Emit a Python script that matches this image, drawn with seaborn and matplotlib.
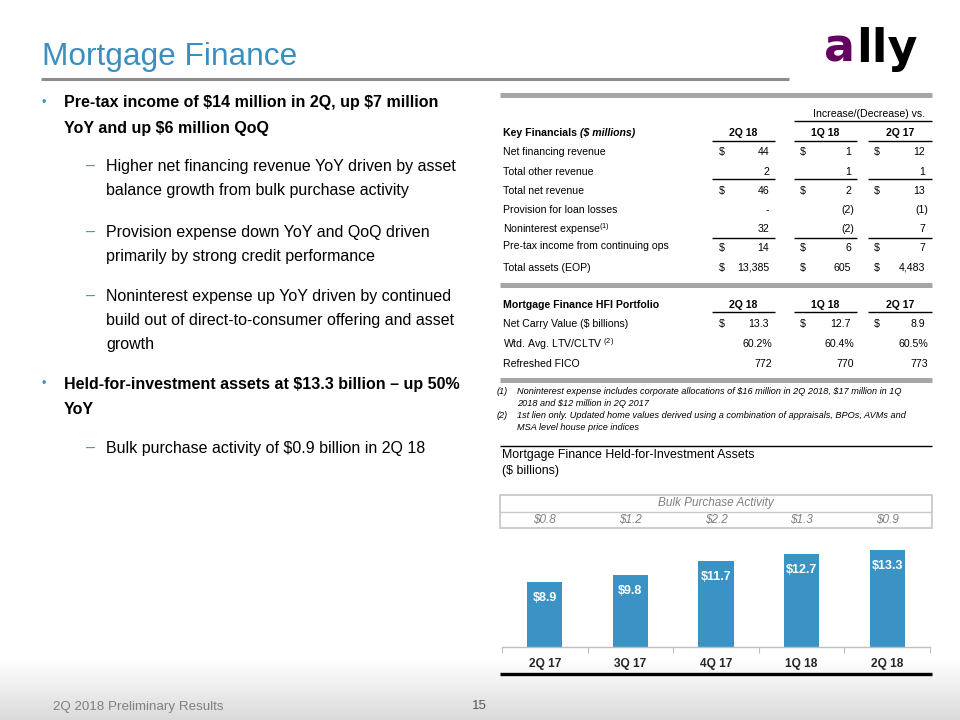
import numpy as np
import pandas as pd
import matplotlib
matplotlib.use("Agg")
import matplotlib.pyplot as plt
import seaborn as sns
from matplotlib.transforms import blended_transform_factory
from matplotlib.colors import LinearSegmentedColormap

# ---------------- data ----------------
quarters = ["2Q 17", "3Q 17", "4Q 17", "1Q 18", "2Q 18"]
hfi_assets = [8.9, 9.8, 11.7, 12.7, 13.3]
bulk_purchase = [0.8, 1.2, 2.2, 1.3, 0.9]

kf_columns = ["2Q 18", "1Q 18", "2Q 17"]
kf_rows = ["Net financing revenue", "Total other revenue", "Total net revenue",
           "Provision for loan losses", "Noninterest expense$^{(1)}$",
           "Pre-tax income from continuing ops", "Total assets (EOP)"]
kf_2q18 = ["44", "2", "46", "-", "32", "14", "13,385"]
kf_1q18 = ["1", "1", "2", "(2)", "(2)", "6", "605"]
kf_2q17 = ["12", "1", "13", "(1)", "7", "7", "4,483"]
kf_dollar = [True, False, True, False, False, True, True]

hfi_rows = ["Net Carry Value ($ billions)", "Wtd. Avg. LTV/CLTV $^{(2)}$", "Refreshed FICO"]
hfi_2q18 = ["13.3", "60.2%", "772"]
hfi_1q18 = ["12.7", "60.4%", "770"]
hfi_2q17 = ["8.9", "60.5%", "773"]
hfi_dollar = [True, False, False]

bullets = [
    ("b", ["Pre-tax income of $14 million in 2Q, up $7 million",
           "YoY and up $6 million QoQ"]),
    ("s", ["Higher net financing revenue YoY driven by asset",
           "balance growth from bulk purchase activity"]),
    ("s", ["Provision expense down YoY and QoQ driven",
           "primarily by strong credit performance"]),
    ("s", ["Noninterest expense up YoY driven by continued",
           "build out of direct-to-consumer offering and asset",
           "growth"]),
    ("b", ["Held-for-investment assets at $13.3 billion \u2013 up 50%",
           "YoY"]),
    ("s", ["Bulk purchase activity of $0.9 billion in 2Q 18"]),
]
footnotes = [
    ("(1)", ["Noninterest expense includes corporate allocations of $16 million in 2Q 2018, $17 million in 1Q",
             "2018 and $12 million in 2Q 2017"]),
    ("(2)", ["1st lien only. Updated home values derived using a combination of appraisals, BPOs, AVMs and",
             "MSA level house price indices"]),
]

# ---------------- style ----------------
sns.set_theme(style="white")
plt.rcParams['font.family'] = ['Liberation Sans', 'DejaVu Sans']
plt.rcParams['mathtext.default'] = 'regular'

BLUE = "#3A93C4"
TITLE_BLUE = "#3A8EC0"
GRAYBAR = "#A6A6A6"

fig = plt.figure(figsize=(9.6, 7.2), dpi=100)
bg = fig.add_axes([0, 0, 1, 1], zorder=0)
bg.axis('off')

# bottom gradient
grad = np.linspace(0, 1, 100).reshape(-1, 1)
cmap = LinearSegmentedColormap.from_list("g", ["#FFFFFF", "#DADADA"])
bg.imshow(grad, extent=[0, 960, 720, 660], aspect='auto', cmap=cmap, zorder=0)
bg.set_xlim(0, 960)
bg.set_ylim(720, 0)


def T(x, y, s, size=7.6, math=False, **kw):
    kw.setdefault('va', 'center')
    kw.setdefault('color', '#000000')
    return bg.text(x, y, s, fontsize=size, parse_math=math, **kw)


def H(x0, x1, y, lw=1.0, color='black'):
    bg.plot([x0, x1], [y, y], color=color, lw=lw, solid_capstyle='butt', zorder=2)


# ---------------- title + logo ----------------
T(42, 57, "Mortgage Finance", size=22.8, color=TITLE_BLUE)
H(41, 789, 79, lw=2.2, color="#8C8C8C")
T(824, 62, "a", size=33, color="#650360", fontweight='bold', va='baseline',
  family='DejaVu Sans')
T(856, 62, "lly", size=33, color="#000000", fontweight='bold', va='baseline',
  family='DejaVu Sans')

# ---------------- left bullets ----------------
line_ys = [103, 129, 166, 191, 232, 256, 296, 321, 345, 384, 409, 448]
k = 0
for kind, lines in bullets:
    for j, ln in enumerate(lines):
        y = line_ys[k]
        if kind == "b":
            if j == 0:
                T(42, y, "\u2022", size=9, color=BLUE)
            T(64, y, ln, size=11.5, fontweight='bold')
        else:
            if j == 0:
                T(86, y, "\u2013", size=11.5, color=BLUE)
            T(106, y, ln, size=11.5)
        k += 1

# ---------------- key financials table ----------------
X0, X1 = 500, 932
H(X0, X1, 95, lw=3.6, color=GRAYBAR)
T(925, 114, "Increase/(Decrease) vs.", ha='right')
H(794, 932, 121)
col_spans = [(712, 775), (794, 857), (868, 932)]
dollar_x = [719, 800, 874]
right_x = [769, 851, 925]

renderer = fig.canvas.get_renderer()
t = T(503, 133, "Key Financials ", fontweight='bold')
xe = t.get_window_extent(renderer).x1
T(xe, 133, "($ millions)", fontweight='bold', style='italic')
for c, (a, b) in zip(kf_columns, col_spans):
    T((a + b) / 2, 133, c, ha='center', fontweight='bold')
    H(a, b, 141)

row_ys = [152, 172, 191, 210, 229, 248, 268]
cols = [kf_2q18, kf_1q18, kf_2q17]
for i, lab in enumerate(kf_rows):
    y = row_ys[i]
    T(503, y - (2 if i == 5 else 0), lab, math=('$^' in lab))
    for ci in range(3):
        v = cols[ci][i]
        off = 3 if v.endswith(')') else 0
        T(right_x[ci] + off, y, v, ha='right')
        if kf_dollar[i]:
            T(dollar_x[ci], y, "$")
for ci, (a, b) in enumerate(col_spans):
    H(a, b, 179)
    H(a, b, 238)
H(X0, X1, 285, lw=3.6, color=GRAYBAR)

# ---------------- HFI portfolio table ----------------
T(503, 305, "Mortgage Finance HFI Portfolio", fontweight='bold')
for c, (a, b) in zip(kf_columns, col_spans):
    T((a + b) / 2, 305, c, ha='center', fontweight='bold')
    H(a, b, 312)
hrow_ys = [324, 344, 364]
hcols = [hfi_2q18, hfi_1q18, hfi_2q17]
for i, lab in enumerate(hfi_rows):
    y = hrow_ys[i]
    T(503, y, lab, math=('$^' in lab))
    for ci in range(3):
        v = hcols[ci][i]
        off = 3 if not hfi_dollar[i] else 0
        T(right_x[ci] + off, y, v, ha='right')
        if hfi_dollar[i]:
            T(dollar_x[ci], y, "$")
H(X0, X1, 380, lw=3.6, color=GRAYBAR)

# footnotes
fy = [[392, 403], [415, 427]]
for (num, lines), ys in zip(footnotes, fy):
    T(497, ys[0], num, size=6.6, style='italic')
    for ln, y in zip(lines, ys):
        T(517, y, ln, size=6.6, style='italic')

# ---------------- chart header ----------------
H(X0, X1, 446, lw=1.0)
T(502, 455, "Mortgage Finance Held-for-Investment Assets", size=8.9)
T(502, 471, "($ billions)", size=8.9)

# bulk purchase box
bg.add_patch(plt.Rectangle((X0, 495), X1 - X0, 33, fill=False,
                           edgecolor="#C9C9C9", lw=1.3, zorder=2))
H(X0, X1, 512, lw=1.0, color="#C9C9C9")
T((X0 + X1) / 2, 503, "Bulk Purchase Activity", size=8.5, style='italic',
  color="#7F7F7F", ha='center')

# ---------------- bar chart ----------------
ax_left, ax_right = 502, 930
base_y, top_y = 647, 535
ax = fig.add_axes([ax_left / 960, (720 - base_y) / 720,
                   (ax_right - ax_left) / 960, (base_y - top_y) / 720], zorder=3)
ax.patch.set_alpha(0)
df = pd.DataFrame({"quarter": quarters, "assets": hfi_assets})
sns.barplot(data=df, x="quarter", y="assets", color=BLUE, saturation=1,
            width=0.41, ax=ax, edgecolor='none')
ax.set_ylim(0, (base_y - top_y) / 7.33)
ax.set_xlim(-0.5, len(quarters) - 0.5)
ax.set_xlabel("")
ax.set_ylabel("")
ax.set_yticks([])
for s in ["top", "left", "right"]:
    ax.spines[s].set_visible(False)
ax.spines["bottom"].set_color("#BFBFBF")
ax.spines["bottom"].set_linewidth(1.0)
ax.tick_params(axis='x', which='major', length=0, pad=8, labelsize=8.6)
for lbl in ax.get_xticklabels():
    lbl.set_fontweight('bold')
ax.set_xticks(np.arange(len(quarters) + 1) - 0.5, minor=True)
ax.tick_params(axis='x', which='minor', length=4, width=0.8, color="#BFBFBF",
               bottom=True, direction='out')
ax.bar_label(ax.containers[0], labels=[f"${v:.1f}" for v in hfi_assets],
             padding=-16, color='white', fontweight='bold', fontsize=9)

# bulk purchase values aligned with the bar categories
btr = blended_transform_factory(ax.transData, bg.transData)
for i, v in enumerate(bulk_purchase):
    bg.text(i, 520, f"${v:.1f}", transform=btr, ha='center', va='center',
            fontsize=8.5, style='italic', color="#7F7F7F", parse_math=False)

H(X0, X1, 674, lw=2.4)

# ---------------- footer ----------------
T(53, 707, "2Q 2018 Preliminary Results", size=9.6, color="#808080")
T(487, 706, "15", size=9.6, color="#595959", ha='right')

fig.savefig("out.png", dpi=100)
